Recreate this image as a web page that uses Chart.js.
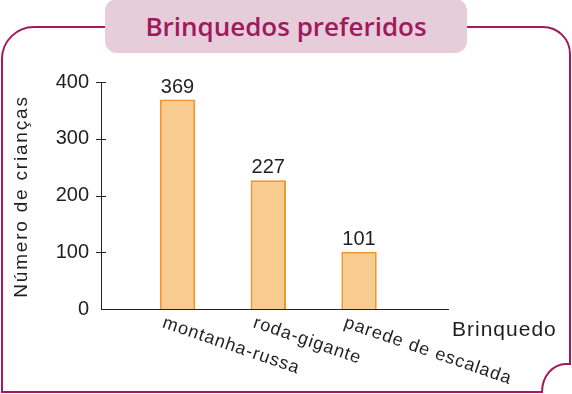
<!DOCTYPE html>
<html lang="pt-BR">
<head>
<meta charset="utf-8">
<title>Brinquedos preferidos</title>
<script src="https://cdn.jsdelivr.net/npm/chart.js@4"></script>
<style>
  body { margin: 0; background: #fff; }
  #quadro { position: relative; width: 572px; height: 394px; overflow: hidden; }
  #moldura { position: absolute; left: 0; top: 0; }
  #titulo {
    position: absolute; left: 105px; top: -1px; width: 362px; height: 54px;
    background: #e7cdd9; border-radius: 12px;
    display: flex; align-items: center; justify-content: center;
    font-family: "Open Sans", Lato, sans-serif; font-weight: 600; font-size: 26px;
    color: #a0185e;
  }
  #area { position: absolute; left: 0; top: 0; width: 572px; height: 394px; }
</style>
</head>
<body>
<div id="quadro">
  <svg id="moldura" width="572" height="394">
    <path d="M105 27 H34 A32 32 0 0 0 2 59 V392 H542 A24 28 0 0 1 566 364 H570 V54 A27 27 0 0 0 543 27 H467"
          fill="none" stroke="#a2195f" stroke-width="2"/>
  </svg>
  <div id="titulo">Brinquedos preferidos</div>
  <div id="area"><canvas id="grafico"></canvas></div>
</div>
<script>
const brinquedos = ['montanha-russa', 'roda-gigante', 'parede de escalada'];
const criancas = [369, 227, 101];
const marcasY = [0, 100, 200, 300, 400];
const tituloY = 'Número de crianças';
const tituloX = 'Brinquedo';

const fonte = '"Liberation Sans", Arial, sans-serif';
const corTexto = '#1f1f1f';

// rótulos que o Chart.js não desenha do jeito do livro
const rotulos = {
  id: 'rotulos',
  afterDraw(chart) {
    const ctx = chart.ctx;
    const x = chart.scales.x;
    const y = chart.scales.y;
    ctx.save();

    // tracinhos cruzando o eixo vertical
    ctx.strokeStyle = '#222';
    ctx.lineWidth = 1;
    marcasY.forEach(v => {
      if (v === 0) return;
      const py = Math.round(y.getPixelForValue(v)) + 0.5;
      ctx.beginPath();
      ctx.moveTo(x.left - 5, py);
      ctx.lineTo(x.left + 5, py);
      ctx.stroke();
    });

    ctx.fillStyle = corTexto;

    // valores em cima das barras
    ctx.font = '20px ' + fonte;
    ctx.textAlign = 'center';
    ctx.textBaseline = 'alphabetic';
    criancas.forEach((v, i) => {
      ctx.fillText(String(v), x.getPixelForValue(i + 1), y.getPixelForValue(v) - 7);
    });

    // nomes dos brinquedos inclinados
    ctx.font = '18px ' + fonte;
    ctx.textAlign = 'left';
    ctx.letterSpacing = '1px';
    brinquedos.forEach((nome, i) => {
      ctx.save();
      ctx.translate(x.getPixelForValue(i + 1) - 16, y.bottom + 18);
      ctx.rotate(19 * Math.PI / 180);
      ctx.fillText(nome, 0, 0);
      ctx.restore();
    });

    // título do eixo x
    ctx.font = '21px ' + fonte;
    ctx.fillText(tituloX, x.right + 4, y.bottom + 27);

    // título do eixo y
    ctx.font = '19px ' + fonte;
    ctx.letterSpacing = '1.8px';
    ctx.textAlign = 'center';
    ctx.translate(27, (y.top + y.bottom) / 2 + 1);
    ctx.rotate(-Math.PI / 2);
    ctx.fillText(tituloY, 0, 0);

    ctx.restore();
  }
};

new Chart(document.getElementById('grafico'), {
  type: 'bar',
  data: {
    datasets: [{
      label: 'Número de crianças',
      data: brinquedos.map((b, i) => ({ x: i + 1, y: criancas[i] })),
      backgroundColor: '#f8cb90',
      borderColor: '#f0962c',
      borderWidth: 2,
      barPercentage: 0.39,
      categoryPercentage: 1
    }]
  },
  options: {
    responsive: true,
    maintainAspectRatio: false,
    animation: false,
    layout: { padding: { top: 82, right: 124, bottom: 0, left: 0 } },
    plugins: {
      legend: { display: false },
      tooltip: { enabled: false }
    },
    scales: {
      x: {
        type: 'linear',
        offset: false,
        min: 0.157,
        max: 3.98,
        afterBuildTicks: s => { s.ticks = brinquedos.map((b, i) => ({ value: i + 1 })); },
        afterFit: s => { s.height = 85; },
        grid: { display: false, drawTicks: false, offset: false },
        border: { display: true, color: '#222', width: 1 },
        ticks: { display: false }
      },
      y: {
        min: 0,
        max: 400,
        afterBuildTicks: s => { s.ticks = marcasY.map(v => ({ value: v })); },
        afterFit: s => { s.width = 101; },
        grid: { display: false, drawTicks: false },
        border: { display: true, color: '#222', width: 1 },
        ticks: {
          padding: 12,
          color: corTexto,
          font: { family: fonte, size: 20 }
        }
      }
    }
  },
  plugins: [rotulos]
});
</script>
</body>
</html>
